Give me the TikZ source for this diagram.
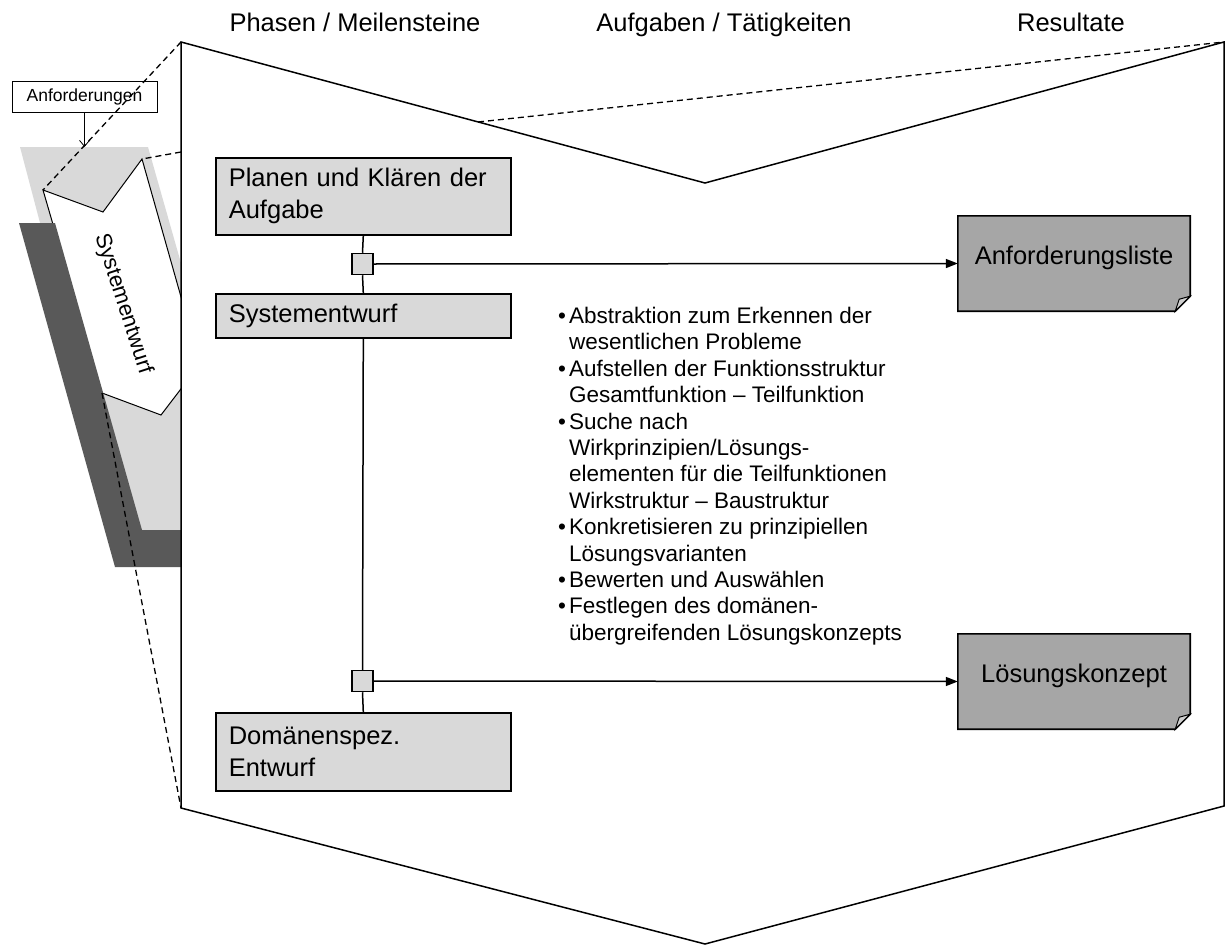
\documentclass[tikz,border=0pt]{standalone}
\usepackage{fontspec}
\setmainfont{Liberation Sans}
\usetikzlibrary{arrows.meta,calc,backgrounds}

\definecolor{boxgray}{HTML}{D9D9D9}
\definecolor{docgray}{HTML}{A6A6A6}
\definecolor{foldgray}{HTML}{CFCFCF}
\definecolor{bandgray}{HTML}{595959}

\newcommand\phfont{\fontsize{25.5}{32}\selectfont}
\newcommand\listfont{\fontsize{22.5}{26.4}\selectfont}
\newcommand\reqfont{\fontsize{17.5}{20}\selectfont}
\newcommand\vfont{\fontsize{22}{26}\selectfont}
\newcommand\itm[1]{\makebox[11pt][l]{•}#1}
\newcommand\cnt[1]{\hspace*{11pt}#1}

\begin{document}
\begin{tikzpicture}[x=1pt,y=-1pt,
  outline/.style={draw=black,line width=1.5pt,line join=miter},
  proj/.style={draw=black,line width=1.3pt,dash pattern=on 6pt off 4pt},
  phasebox/.style={draw=black,line width=1.6pt,fill=boxgray,anchor=north west,
    align=left,inner xsep=13pt,inner ysep=0pt,text width=269pt,font=\phfont},
  milestone/.style={draw=black,line width=1.5pt,fill=boxgray,minimum size=21pt,inner sep=0pt},
  link/.style={draw=black,line width=1.5pt},
  result/.style={draw=black,line width=1.5pt,-{Triangle[length=12pt,width=9pt]}},
  doc/.style={minimum width=232pt,minimum height=95pt,inner sep=0pt,font=\phfont,
    text height=19pt,text depth=17pt},
  docline/.style={draw=black,line width=1.6pt,fill=docgray,line join=miter},
  head/.style={font=\phfont,anchor=base}
]
\useasboundingbox (0,0) rectangle (1225,947);

% ---- corner points of the zoomed-in phase frame
\coordinate (tl) at (181,42);
\coordinate (tv) at (705,183);
\coordinate (tr) at (1224,42);
\coordinate (br) at (1224,806);
\coordinate (bv) at (705,944);
\coordinate (bl) at (181,808);

% ---- fragment of the V-model on the left, cut at the frame
\begin{scope}
  \clip (0,0) rectangle (181,947);
  \fill[boxgray] (20,147) -- (148,147) -- (200,330) -- (200,530) -- (121,530) -- cycle;
  \filldraw[fill=white,draw=black,line width=1pt,line join=miter]
    (43,190) -- (103,212) -- (142,159) -- (200,364) -- (161,415) -- (102,393) -- cycle;
  \fill[bandgray] (19,223) -- (55,223) -- (142,530) -- (200,530) -- (200,567) -- (115,567) -- cycle;
  \node[rotate=-72,font=\vfont,inner sep=0pt] (systxt) at (123,304) {Systementwurf};
\end{scope}

\node[draw=black,line width=0.8pt,fill=white,minimum width=145pt,minimum height=31pt,
  inner sep=0pt,font=\reqfont] (req) at (84.5,96.5) {Anforderungen};
\coordinate (reqtip) at (84.5,147);
\draw[line width=0.8pt,-{Straight Barb[length=6pt,width=10pt]}] (req.south) -- (reqtip);

% ---- frame
\draw[outline] (tl) -- (tv) -- (tr) -- (br) -- (bv) -- (bl) -- cycle;

% ---- projection lines
\coordinate (ltop) at (43,190);
\coordinate (rtop) at (142,159);
\coordinate (lbot) at (102,393);
\coordinate (edge) at (181,152);
\coordinate (mid) at (478,122);
\draw[proj] (tl) -- (ltop);
\draw[proj] (edge) -- (rtop);
\draw[proj] (lbot) -- (bl);
\draw[proj] (mid) -- (tr);

% ---- column headings
\node[head] (h1) at (355,32) {Phasen / Meilensteine};
\node[head] (h2) at (724,32) {Aufgaben / Tätigkeiten};
\node[head] (h3) at (1071,32) {Resultate};

% ---- phases
\node[phasebox,minimum height=77pt] (plan) at (215,157) {Planen und Klären der\\Aufgabe};
\node[phasebox,minimum height=44pt] (sys) at (215,293) {Systementwurf};
\node[phasebox,minimum height=78pt] (dom) at (215,712) {Domänenspez.\\Entwurf};

% ---- milestones
\node[milestone] (m1) at (362.5,264) {};
\node[milestone] (m2) at (362.5,681) {};
\draw[link] (plan.south) -- (m1.north);
\draw[link] (m1.south) -- (sys.north);
\draw[link] (sys.south) -- (m2.north);
\draw[link] (m2.south) -- (dom.north);

% ---- results
\node[doc] (anf) at (1074,263.5) {Anforderungsliste};
\node[doc] (loes) at (1074,681.5) {Lösungskonzept};
\begin{scope}[on background layer]
  \foreach \d in {anf,loes}{
    \draw[docline] (\d.north west) -- (\d.north east) -- ($(\d.south east)+(0,-15)$)
      -- ($(\d.south east)+(-15,0)$) -- (\d.south west) -- cycle;
    \filldraw[fill=foldgray,draw=black,line width=1pt,line join=miter]
      ($(\d.south east)+(-15,0)$) -- ($(\d.south east)+(-11,-12)$) -- ($(\d.south east)+(0,-15)$) -- cycle;
  }
\end{scope}
\draw[result] (m1.east) -- (anf.west);
\draw[result] (m2.east) -- (loes.west);

% ---- tasks of the system design phase
\node[anchor=north west,align=left,inner sep=0pt,font=\listfont] (tasks) at (558,307) {%
\itm{Abstraktion zum Erkennen der}\\
\cnt{wesentlichen Probleme}\\
\itm{Aufstellen der Funktionsstruktur}\\
\cnt{Gesamtfunktion – Teilfunktion}\\
\itm{Suche nach}\\
\cnt{Wirkprinzipien/Lösungs-}\\
\cnt{elementen für die Teilfunktionen}\\
\cnt{Wirkstruktur – Baustruktur}\\
\itm{Konkretisieren zu prinzipiellen}\\
\cnt{Lösungsvarianten}\\
\itm{Bewerten und Auswählen}\\
\itm{Festlegen des domänen-}\\
\cnt{übergreifenden Lösungskonzepts}};
\end{tikzpicture}
\end{document}
